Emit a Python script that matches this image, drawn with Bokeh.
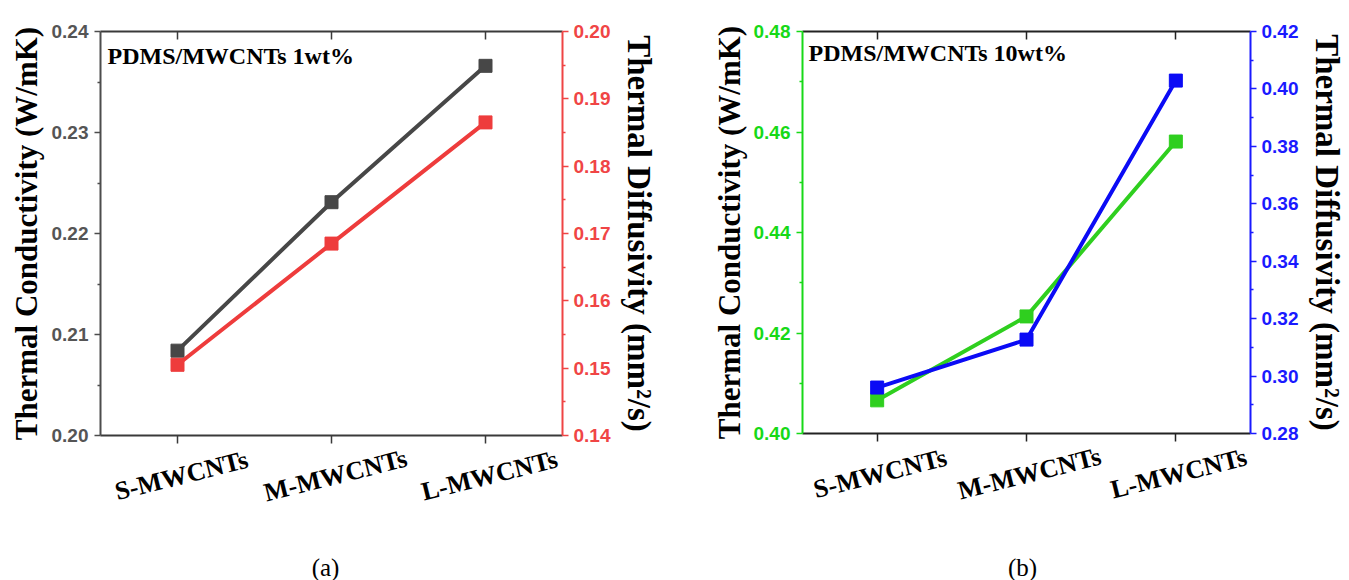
import numpy as np
from bokeh.plotting import figure
from bokeh.models import (Range1d, LinearAxis, FixedTicker, NumeralTickFormatter, Label)
from bokeh.layouts import row, column
from bokeh.core.properties import value
from bokeh.embed import file_html
from bokeh.resources import INLINE

# ---------------- data ----------------
categories = ["S-MWCNTs", "M-MWCNTs", "L-MWCNTs"]

# panel (a) PDMS/MWCNTs 1wt%
tc_1wt = [0.2084, 0.2231, 0.2366]    # thermal conductivity, W/mK (left axis)
td_1wt = [0.1505, 0.1685, 0.1865]    # thermal diffusivity, mm2/s (right axis)

# panel (b) PDMS/MWCNTs 10wt%
tc_10wt = [0.4066, 0.4233, 0.4581]
td_10wt = [0.2960, 0.3127, 0.4029]

left_ticks_a = [0.20, 0.21, 0.22, 0.23, 0.24]
right_ticks_a = [0.14, 0.15, 0.16, 0.17, 0.18, 0.19, 0.20]
left_ticks_b = [0.40, 0.42, 0.44, 0.46, 0.48]
right_ticks_b = [0.28, 0.30, 0.32, 0.34, 0.36, 0.38, 0.40, 0.42]

notes = ["PDMS/MWCNTs 1wt%", "PDMS/MWCNTs 10wt%"]
captions = ["(a)", "(b)"]
y_left_title = "Thermal Conductivity (W/mK)"
y_right_title = "Thermal Diffusivity (mm\u00b2/s)"

SERIF = "Liberation Serif"
SANS = "Liberation Sans"


def mids(t):
    return [round((a + b) / 2, 5) for a, b in zip(t[:-1], t[1:])]


def style_y_axis(ax, color, label_color, label_standoff, title_standoff, title_size):
    ax.axis_line_color = color
    ax.axis_line_width = 2
    ax.major_tick_line_color = color
    ax.major_tick_line_width = 1.5
    ax.minor_tick_line_color = color
    ax.minor_tick_line_width = 1.5
    ax.major_tick_in = 0
    ax.major_tick_out = 6
    ax.minor_tick_in = 0
    ax.minor_tick_out = 3
    ax.major_label_text_font = SANS
    ax.major_label_text_font_style = "bold"
    ax.major_label_text_font_size = "19px"
    ax.major_label_text_color = label_color
    ax.major_label_standoff = label_standoff
    ax.axis_label_text_font = SERIF
    ax.axis_label_text_font_style = "bold"
    ax.axis_label_text_font_size = title_size
    ax.axis_label_text_color = "black"
    ax.axis_label_standoff = title_standoff


def make_panel(tc, td, lticks, rticks, lcol, llab, lline, rcol, rlab, rline,
               frame_col, note, caption, width, b_left, b_right, b_top,
               frame_h, note_dx, note_dy, rl_std, rt_std, ll_std, lt_std,
               total_h, cat_from_top, cat_dx, cap_from_top, cap_dx):
    n = len(categories)
    xs = list(range(n))
    b_bottom = 10
    main_h = b_top + frame_h + b_bottom
    xr = Range1d(-0.5, n - 0.5)
    p = figure(width=width, height=main_h, output_backend="svg",
               toolbar_location=None, x_range=xr,
               y_range=Range1d(lticks[0], lticks[-1]),
               x_axis_location=None, y_axis_location=None,
               min_border_left=b_left, min_border_right=b_right,
               min_border_top=b_top, min_border_bottom=b_bottom)
    p.xgrid.visible = False
    p.ygrid.visible = False
    p.outline_line_color = None
    p.background_fill_color = "white"
    p.border_fill_color = "white"
    p.extra_y_ranges = {"r": Range1d(rticks[0], rticks[-1])}

    yl = LinearAxis(ticker=FixedTicker(ticks=lticks, minor_ticks=mids(lticks)),
                    formatter=NumeralTickFormatter(format="0.00"),
                    axis_label=y_left_title)
    style_y_axis(yl, lcol, llab, ll_std, lt_std, "31px")
    p.add_layout(yl, "left")

    yr = LinearAxis(y_range_name="r",
                    ticker=FixedTicker(ticks=rticks, minor_ticks=mids(rticks)),
                    formatter=NumeralTickFormatter(format="0.00"),
                    axis_label=y_right_title)
    style_y_axis(yr, rcol, rlab, rl_std, rt_std, "33px")
    p.add_layout(yr, "right")

    for side in ("below", "above"):
        xa = LinearAxis(ticker=FixedTicker(ticks=xs, minor_ticks=[]))
        xa.axis_line_color = frame_col
        xa.axis_line_width = 2
        xa.major_tick_line_color = frame_col
        xa.major_tick_line_width = 1.5
        xa.minor_tick_line_color = None
        xa.major_label_overrides = {i: "" for i in xs}
        xa.major_label_text_font_size = "1px"
        xa.major_label_standoff = 0
        if side == "below":
            xa.major_tick_in = 0
            xa.major_tick_out = 8
        else:
            xa.major_tick_in = 8
            xa.major_tick_out = 0
        p.add_layout(xa, side)

    p.line(xs, tc, line_color=lline, line_width=4)
    p.scatter(xs, tc, marker="square", size=13, fill_color=lline, line_color=lline)
    p.line(xs, td, line_color=rline, line_width=4, y_range_name="r")
    p.scatter(xs, td, marker="square", size=13, fill_color=rline, line_color=rline,
              y_range_name="r")

    p.add_layout(Label(x=-0.5, y=lticks[-1], x_offset=note_dx, y_offset=note_dy,
                       text=note, text_align="left", text_baseline="middle",
                       text_font=SERIF, text_font_style="bold",
                       text_font_size="24px", text_color="black"))

    # strip below the frame holding the rotated category labels and the caption,
    # sharing the main frame's x range and horizontal borders
    lab_h = total_h - main_h
    q = figure(width=width, height=lab_h, output_backend="svg",
               toolbar_location=None, x_range=xr,
               y_range=Range1d(0, lab_h),
               x_axis_location=None, y_axis_location=None,
               min_border_left=b_left, min_border_right=b_right,
               min_border_top=0, min_border_bottom=0)
    q.xgrid.visible = False
    q.ygrid.visible = False
    q.outline_line_color = None
    q.background_fill_color = "white"
    q.border_fill_color = "white"
    q.text(x=xs, y=[lab_h - cat_from_top] * n, text=categories,
           angle=14, angle_units="deg", x_offset=cat_dx,
           text_align="center", text_baseline="middle",
           text_font=value(SERIF), text_font_style="bold",
           text_font_size="26px", text_color="black")
    q.text(x=[(n - 1) / 2], y=[lab_h - cap_from_top], text=[caption],
           x_offset=cap_dx, text_align="center", text_baseline="middle",
           text_font=value(SERIF), text_font_size="25px", text_color="black")
    return column(p, q, spacing=0)


pa = make_panel(tc_1wt, td_1wt, left_ticks_a, right_ticks_a,
                "#4d4d4d", "#555555", "#474747",
                "#ef4444", "#f04545", "#ee3c3c",
                "#3a3a3a", notes[0], captions[0],
                width=690, b_left=100, b_right=128, b_top=31, frame_h=404,
                note_dx=7, note_dy=-24, rl_std=5, rt_std=8, ll_std=6, lt_std=5,
                total_h=580, cat_from_top=30, cat_dx=4,
                cap_from_top=122, cap_dx=-6)

pb = make_panel(tc_10wt, td_10wt, left_ticks_b, right_ticks_b,
                "#17d917", "#17d917", "#2fcf1f",
                "#1a1aff", "#1a1aff", "#0b0bf5",
                "#222222", notes[1], captions[1],
                width=659, b_left=112, b_right=99, b_top=31, frame_h=402,
                note_dx=6, note_dy=-21, rl_std=5, rt_std=8, ll_std=6, lt_std=4,
                total_h=580, cat_from_top=30, cat_dx=3,
                cap_from_top=124, cap_dx=-4)

layout = row(pa, pb, spacing=0)
open("out.html", "w").write(file_html(layout, INLINE))
